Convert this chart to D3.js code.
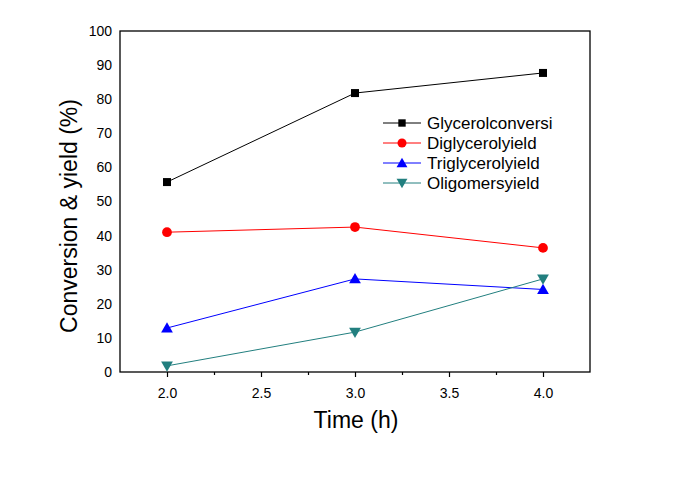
<!DOCTYPE html>
<html><head><meta charset="utf-8">
<script src="https://cdn.jsdelivr.net/npm/d3@7"></script>
<style>body{margin:0;background:#fff}text{font-family:Arial,"Liberation Sans",sans-serif}</style>
</head><body><svg id="c" width="673" height="495"></svg>
<script>
const times = [2.0, 3.0, 4.0];
const glycerol = [55.7, 81.8, 87.7];
const diglycerol = [41.0, 42.5, 36.4];
const triglycerol = [12.9, 27.3, 24.2];
const oligomers = [1.8, 11.7, 27.3];
const seriesNames = ["Glycerolconversi", "Diglycerolyield", "Triglycerolyield", "Oligomersyield"];
const xTicks = [2.0, 2.5, 3.0, 3.5, 4.0];
const yTicks = [0,10,20,30,40,50,60,70,80,90,100];

const series = [
  {name: seriesNames[0], vals: glycerol, color: "#000000", sym: d3.symbolSquare, size: 64, rot: 0},
  {name: seriesNames[1], vals: diglycerol, color: "#ff0000", sym: d3.symbolCircle, size: 75, rot: 0},
  {name: seriesNames[2], vals: triglycerol, color: "#0000ff", sym: d3.symbolTriangle, size: 60, rot: 0},
  {name: seriesNames[3], vals: oligomers, color: "#227f7f", sym: d3.symbolTriangle, size: 60, rot: 180}
];

const svg = d3.select("#c");
const L = 120, R = 590, T = 31, B = 372;
const x = d3.scaleLinear().domain([1.75, 4.25]).range([L, R]);
const y = d3.scaleLinear().domain([0, 100]).range([B, T]);

// frame
svg.append("rect").attr("x", L).attr("y", T).attr("width", R-L).attr("height", B-T)
  .attr("fill", "none").attr("stroke", "#000").attr("stroke-width", 1.3);

// x axis
const xa = svg.append("g").attr("transform", `translate(0,${B})`)
  .call(d3.axisBottom(x).tickValues(xTicks).tickFormat(d3.format(".1f")).tickSize(5).tickSizeOuter(0));
xa.select(".domain").remove();
xa.selectAll("text").attr("font-size", 14).attr("dy", "1.25em").attr("fill", "#000");
xa.selectAll("line").attr("stroke-width", 1.2);
svg.append("g").attr("transform", `translate(0,${B})`)
  .call(d3.axisBottom(x).tickValues([2.25, 2.75, 3.25, 3.75]).tickFormat("").tickSize(3).tickSizeOuter(0))
  .call(g => g.select(".domain").remove())
  .selectAll("line").attr("stroke-width", 1.2);

// y axis
const ya = svg.append("g").attr("transform", `translate(${L},0)`)
  .call(d3.axisLeft(y).tickValues(yTicks).tickFormat(d3.format("d")).tickSize(0).tickPadding(8));
ya.select(".domain").remove();
ya.selectAll("text").attr("font-size", 14).attr("fill", "#000");

// lines and markers
const line = d3.line().x((d, i) => x(times[i])).y(d => y(d));
series.forEach(s => {
  svg.append("path").datum(s.vals).attr("d", line).attr("fill", "none")
    .attr("stroke", s.color).attr("stroke-width", 1);
  svg.selectAll(null).data(s.vals).enter().append("path")
    .attr("d", d3.symbol().type(s.sym).size(s.size))
    .attr("transform", (d, i) => `translate(${x(times[i])},${y(d) + (s.sym === d3.symbolTriangle ? (s.rot ? -1 : 1) : 0)}) rotate(${s.rot})`)
    .attr("fill", s.color);
});

// legend
const lg = svg.append("g");
series.forEach((s, i) => {
  const yy = 123 + i * 20;
  lg.append("line").attr("x1", 383).attr("x2", 421).attr("y1", yy).attr("y2", yy)
    .attr("stroke", s.color).attr("stroke-width", 1);
  lg.append("path").attr("d", d3.symbol().type(s.sym).size(s.size * 0.85))
    .attr("transform", `translate(402,${yy + (s.sym === d3.symbolTriangle ? (s.rot ? -1 : 1) : 0)}) rotate(${s.rot})`)
    .attr("fill", s.color);
  lg.append("text").attr("x", 427).attr("y", yy).attr("dy", "0.36em")
    .attr("font-size", 17).attr("fill", "#000").text(s.name);
});

// titles
svg.append("text").attr("x", 356).attr("y", 428).attr("text-anchor", "middle")
  .attr("font-size", 23).text("Time (h)");
svg.append("text").attr("transform", `translate(77,216) rotate(-90)`)
  .attr("text-anchor", "middle").attr("font-size", 23).text("Conversion & yield (%)");
</script></body></html>
